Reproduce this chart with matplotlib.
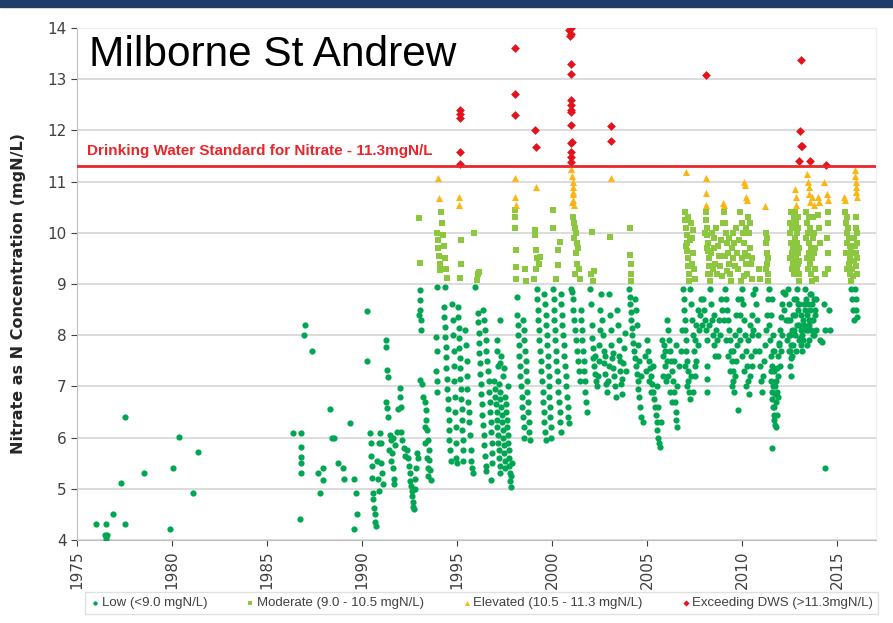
import numpy as np
import matplotlib
matplotlib.use("Agg")
import matplotlib.pyplot as plt
from matplotlib.patches import Rectangle

plt.rcParams['font.family'] = ['Liberation Sans', 'DejaVu Sans']

# sample date (decimal year), nitrate as N (mgN/L)
early = [(1976.0, 4.31), (1976.55, 4.31), (1976.45, 4.10), (1976.6, 4.10), (1976.5, 4.02),
         (1976.9, 4.51), (1977.5, 4.31), (1977.3, 5.11), (1977.5, 6.40), (1978.5, 5.31),
         (1979.9, 4.21), (1980.05, 5.40), (1980.35, 6.01), (1981.1, 4.91), (1981.35, 5.71)]

late80s = [(1986.35, 6.09), (1986.8, 6.09), (1986.8, 5.82), (1986.8, 5.63), (1986.8, 5.5),
           (1986.8, 5.3), (1986.75, 4.41), (1987.0, 8.2), (1986.95, 8.0), (1987.35, 7.69),
           (1987.7, 5.3), (1987.95, 5.4), (1987.95, 5.18), (1987.8, 4.91), (1988.3, 6.55),
           (1988.4, 6.0), (1988.55, 6.0), (1988.75, 5.5), (1989.0, 5.4), (1989.05, 5.19),
           (1989.35, 6.28), (1989.6, 5.19), (1989.7, 4.91), (1989.75, 4.51), (1989.6, 4.21)]

early90s = [(1990.24, 8.48), (1990.24, 7.50),
            (1990.40, 6.09), (1990.45, 5.90), (1990.45, 5.64), (1990.50, 5.44), (1990.52, 5.21),
            (1990.56, 4.92), (1990.60, 4.80), (1990.62, 4.62), (1990.66, 4.50), (1990.68, 4.35),
            (1990.72, 4.28), (1990.95, 6.09), (1991.00, 5.90), (1991.02, 5.50), (1991.05, 5.30),
            (1991.10, 5.10), (1990.90, 5.90), (1990.80, 5.55), (1990.85, 5.20), (1990.88, 4.95),
            (1991.26, 7.90), (1991.28, 7.77), (1991.32, 7.32), (1991.36, 7.18), (1991.28, 6.70),
            (1991.34, 6.57), (1991.38, 6.40), (1991.45, 6.05), (1991.55, 5.95), (1991.65, 6.00),
            (1991.75, 5.85), (1991.85, 6.10), (1991.60, 5.70), (1991.62, 5.40), (1991.66, 5.20),
            (1991.70, 5.10), (1991.50, 5.55), (1991.40, 5.75), (1991.90, 6.55), (1992.00, 6.97),
            (1992.02, 6.80), (1992.05, 6.60), (1992.05, 6.10), (1992.10, 5.95), (1992.20, 5.80),
            (1992.25, 5.65), (1992.35, 5.75), (1992.40, 5.60), (1992.45, 5.45), (1992.50, 5.30),
            (1992.55, 5.15), (1992.58, 5.05), (1992.62, 4.95), (1992.65, 4.85), (1992.68, 4.75),
            (1992.70, 4.65), (1992.72, 4.60), (1992.78, 5.00), (1992.85, 5.40), (1992.90, 5.70),
            (1992.92, 5.60), (1992.80, 5.20), (1993.05, 8.88), (1993.05, 8.69), (1993.07, 8.49),
            (1993.08, 8.30), (1993.10, 8.10), (1993.02, 8.40), (1993.05, 7.12), (1993.15, 7.05),
            (1993.20, 6.80), (1993.35, 6.54), (1993.38, 6.35), (1993.42, 6.15), (1993.46, 5.95),
            (1993.50, 5.76), (1993.54, 5.56), (1993.58, 5.37), (1993.62, 5.17), (1993.30, 6.70),
            (1993.30, 6.20), (1993.34, 5.90), (1993.40, 5.60), (1993.45, 5.40), (1993.48, 5.25),
            (1993.00, 10.29), (1993.05, 9.41)]

mid90s = [(1993.95, 10.00), (1994.00, 9.85), (1994.02, 9.70), (1994.05, 9.55), (1994.08, 9.40),
          (1994.10, 9.27), (1994.02, 11.07), (1994.06, 10.68), (1994.15, 10.40), (1994.20, 10.20),
          (1994.25, 9.95), (1994.30, 9.75), (1994.35, 9.50), (1994.40, 9.30), (1994.45, 9.12),
          (1993.95, 8.94), (1994.35, 8.94), (1994.30, 8.55), (1994.32, 8.36), (1994.35, 8.16),
          (1994.38, 7.96), (1994.40, 7.77), (1994.42, 7.57), (1993.90, 7.96), (1993.92, 7.70),
          (1993.90, 7.30), (1993.93, 7.10), (1993.96, 6.90), (1994.40, 7.35), (1994.45, 7.15),
          (1994.48, 6.95), (1994.50, 6.75), (1994.53, 6.55), (1994.56, 6.35), (1994.58, 6.15),
          (1994.60, 5.95), (1994.63, 5.75), (1994.66, 5.55), (1994.75, 8.60), (1994.77, 8.30),
          (1994.80, 8.00), (1994.82, 7.70), (1994.84, 7.40), (1994.86, 7.10), (1994.88, 6.80),
          (1994.90, 6.50), (1994.92, 6.20), (1994.94, 5.90), (1994.96, 5.60), (1994.98, 5.50),
          (1995.05, 8.55), (1995.07, 8.35), (1995.08, 8.15), (1995.10, 7.95), (1995.12, 7.75),
          (1995.14, 7.55), (1995.16, 7.35), (1995.18, 7.15), (1995.20, 6.95), (1995.22, 6.75),
          (1995.24, 6.55), (1995.26, 6.35), (1995.28, 6.15), (1995.30, 5.95), (1995.32, 5.75),
          (1995.34, 5.55), (1995.16, 12.40), (1995.16, 12.32), (1995.17, 12.25), (1995.15, 11.58),
          (1995.16, 11.34), (1995.10, 10.70), (1995.12, 10.55), (1995.20, 9.85), (1995.22, 9.40),
          (1995.18, 9.12), (1995.90, 10.00), (1996.10, 9.20), (1996.15, 9.24), (1996.05, 9.08)]

late90s = [(1995.40, 8.10), (1995.45, 7.80), (1995.50, 7.50), (1995.52, 7.20), (1995.55, 6.95),
           (1995.58, 6.70), (1995.62, 6.50), (1995.65, 6.30), (1995.70, 6.05), (1995.72, 5.75),
           (1995.76, 5.55), (1995.80, 5.40), (1995.82, 5.30), (1995.95, 8.94), (1996.10, 8.43),
           (1996.12, 8.25), (1996.14, 8.05), (1996.16, 7.85), (1996.18, 7.65), (1996.20, 7.45),
           (1996.22, 7.25), (1996.25, 7.05), (1996.28, 6.85), (1996.30, 6.65), (1996.33, 6.45),
           (1996.36, 6.25), (1996.40, 6.05), (1996.44, 5.85), (1996.48, 5.65), (1996.52, 5.45),
           (1996.55, 5.35), (1996.35, 8.50), (1996.40, 8.30), (1996.45, 8.10), (1996.50, 7.90),
           (1996.55, 7.70), (1996.58, 7.50), (1996.62, 7.30), (1996.66, 7.10), (1996.70, 6.90),
           (1996.72, 6.70), (1996.75, 6.50), (1996.78, 6.30), (1996.80, 6.10), (1996.82, 5.90),
           (1996.84, 5.70), (1996.86, 5.50), (1996.80, 5.17), (1997.25, 8.30), (1997.30, 7.60),
           (1997.25, 7.45), (1997.70, 7.00), (1996.95, 7.10), (1997.00, 6.95), (1997.02, 6.80),
           (1997.05, 6.65), (1997.08, 6.50), (1997.10, 6.35), (1997.12, 6.20), (1997.15, 6.05),
           (1997.18, 5.90), (1997.20, 5.75), (1997.22, 5.60), (1997.25, 5.45), (1997.28, 5.30),
           (1997.20, 7.05), (1997.25, 6.90), (1997.28, 6.75), (1997.32, 6.60), (1997.35, 6.45),
           (1997.38, 6.30), (1997.40, 6.15), (1997.42, 6.00), (1997.45, 5.85), (1997.48, 5.70),
           (1997.50, 5.55), (1997.52, 5.40), (1997.55, 6.80), (1997.58, 6.65), (1997.60, 6.50),
           (1997.62, 6.35), (1997.65, 6.20), (1997.68, 6.05), (1997.70, 5.90), (1997.72, 5.75),
           (1997.74, 5.60), (1997.76, 5.45), (1997.78, 5.30), (1997.80, 5.15), (1997.82, 5.04),
           (1997.85, 5.25), (1997.88, 5.50), (1997.10, 7.90), (1997.12, 7.70), (1997.15, 7.40),
           (1997.40, 7.20), (1997.45, 7.35),
           (1998.05, 13.60), (1998.05, 12.71), (1998.06, 12.30), (1998.05, 11.07), (1998.05, 10.70),
           (1998.08, 10.55), (1998.05, 10.45), (1998.06, 10.30), (1998.07, 10.10), (1998.08, 9.66),
           (1998.10, 9.33), (1998.12, 9.10), (1998.60, 9.30), (1998.65, 9.05),
           (1998.15, 8.75), (1998.18, 8.40), (1998.20, 8.20), (1998.22, 8.00), (1998.25, 7.80),
           (1998.28, 7.60), (1998.30, 7.40), (1998.33, 7.20), (1998.36, 7.00), (1998.40, 6.80),
           (1998.43, 6.60), (1998.46, 6.40), (1998.50, 6.20), (1998.53, 6.00), (1998.45, 8.30),
           (1998.50, 8.10), (1998.55, 7.90), (1998.58, 7.70), (1998.62, 7.50), (1998.65, 7.30),
           (1998.68, 7.10), (1998.70, 6.90), (1998.72, 6.70), (1998.75, 6.50), (1998.78, 6.30),
           (1998.80, 6.10), (1998.83, 5.95),
           (1999.10, 12.00), (1999.15, 11.68), (1999.15, 10.90), (1999.10, 10.05), (1999.10, 9.95),
           (1999.15, 9.66), (1999.20, 9.50), (1999.15, 9.30), (1999.35, 9.53), (1999.30, 9.40),
           (1999.05, 9.10), (1999.20, 8.90), (1999.22, 8.70), (1999.25, 8.50), (1999.28, 8.30),
           (1999.30, 8.10), (1999.33, 7.90), (1999.36, 7.70), (1999.40, 7.50), (1999.43, 7.30),
           (1999.46, 7.10), (1999.50, 6.90), (1999.53, 6.70), (1999.56, 6.50), (1999.60, 6.30),
           (1999.63, 6.10), (1999.66, 5.95), (1999.60, 8.80), (1999.63, 8.60), (1999.66, 8.40),
           (1999.70, 8.20), (1999.72, 8.00), (1999.75, 7.80), (1999.77, 7.60), (1999.80, 7.40),
           (1999.82, 7.20), (1999.84, 7.00), (1999.86, 6.80), (1999.88, 6.60), (1999.90, 6.40),
           (1999.92, 6.20), (1999.94, 6.00)]

early00s = [(2000.05, 10.44), (2000.05, 10.09), (2000.40, 9.82), (2000.30, 9.38), (2000.20, 9.10),
            (2000.30, 9.66), (2000.05, 8.90), (2000.08, 8.70), (2000.10, 8.50), (2000.12, 8.30),
            (2000.15, 8.10), (2000.18, 7.90), (2000.20, 7.70), (2000.23, 7.50), (2000.26, 7.30),
            (2000.30, 7.10), (2000.33, 6.90), (2000.36, 6.70), (2000.40, 6.50), (2000.43, 6.30),
            (2000.46, 6.10), (2000.45, 8.80), (2000.48, 8.60), (2000.52, 8.40), (2000.55, 8.20),
            (2000.58, 8.00), (2000.62, 7.80), (2000.65, 7.60), (2000.68, 7.40), (2000.72, 7.20),
            (2000.75, 7.00), (2000.78, 6.80), (2000.82, 6.60), (2000.85, 6.40), (2000.88, 6.28),
            (2000.90, 13.96), (2000.92, 13.85), (2001.00, 14.00), (2001.00, 13.88), (2001.02, 13.30),
            (2001.02, 13.10), (2000.98, 12.60), (2000.98, 12.50), (2000.98, 12.40), (2001.00, 12.35),
            (2001.00, 12.10), (2000.98, 11.75), (2001.05, 11.78), (2001.00, 11.58), (2001.00, 11.49),
            (2001.00, 11.39), (2001.02, 11.25), (2001.05, 11.10), (2001.08, 11.00), (2001.08, 10.90),
            (2001.10, 10.80), (2001.12, 10.75), (2001.10, 10.65), (2001.15, 10.55), (2001.05, 10.60),
            (2001.10, 10.30), (2001.15, 10.20), (2001.20, 10.10), (2001.25, 10.00), (2001.18, 9.90),
            (2001.30, 9.80), (2001.35, 9.70), (2001.25, 9.60), (2001.30, 9.40), (2001.40, 9.30),
            (2001.45, 9.10), (2001.20, 9.20), (2001.00, 8.90), (2001.05, 8.85), (2001.10, 8.70),
            (2001.12, 8.50), (2001.15, 8.30), (2001.20, 8.10), (2001.25, 7.90), (2001.30, 7.70),
            (2001.35, 7.50), (2001.40, 7.30), (2001.45, 7.10), (2001.50, 8.50), (2001.55, 8.30),
            (2001.58, 8.10), (2001.60, 7.90), (2001.63, 7.70), (2001.66, 7.50), (2001.70, 7.30),
            (2001.73, 7.10), (2001.76, 6.90), (2001.80, 6.70), (2001.82, 6.50),
            (2002.10, 10.02), (2002.05, 9.20), (2002.20, 9.25), (2002.15, 9.05), (2003.05, 9.92),
            (2003.10, 12.09), (2003.10, 11.79), (2003.10, 11.08),
            (2002.00, 8.90), (2002.05, 8.60), (2002.10, 8.20), (2002.12, 7.95), (2002.15, 7.75),
            (2002.18, 7.55), (2002.20, 7.40), (2002.25, 7.25), (2002.30, 7.10), (2002.35, 7.00),
            (2002.40, 7.20), (2002.45, 7.50), (2002.48, 7.80), (2002.52, 8.10), (2002.55, 8.50),
            (2002.60, 8.80), (2002.65, 8.30), (2002.70, 8.00), (2002.72, 7.70), (2002.75, 7.45),
            (2002.80, 7.25), (2002.85, 7.05), (2002.90, 6.90), (2002.95, 7.10), (2003.00, 7.40),
            (2003.00, 8.80), (2003.05, 8.40), (2003.08, 8.10), (2003.10, 7.80), (2003.15, 7.55),
            (2003.20, 7.35), (2003.25, 7.20), (2003.30, 7.00), (2003.35, 6.80), (2003.40, 8.50),
            (2003.45, 8.20), (2003.50, 7.90), (2003.55, 7.60), (2003.58, 7.30), (2003.62, 7.05),
            (2003.66, 6.85), (2003.70, 7.15), (2003.75, 7.45), (2003.80, 7.75), (2003.85, 8.05),
            (2003.90, 7.30), (2002.25, 7.60), (2002.80, 7.60), (2003.20, 7.65), (2003.60, 7.50)]

mid00s = [(2004.10, 10.10), (2004.12, 9.56), (2004.14, 9.40), (2004.15, 9.20), (2004.18, 9.05),
          (2004.05, 8.90), (2004.08, 8.75), (2004.10, 8.60), (2004.13, 8.45), (2004.16, 8.30),
          (2004.20, 8.15), (2004.23, 8.00), (2004.26, 7.85), (2004.30, 7.70), (2004.35, 7.55),
          (2004.40, 7.40), (2004.45, 7.25), (2004.50, 7.10), (2004.55, 6.95), (2004.60, 6.80),
          (2004.65, 6.60), (2004.70, 6.40), (2004.80, 6.30), (2004.35, 8.70), (2004.40, 8.50),
          (2004.45, 8.20), (2004.55, 7.80), (2004.60, 7.50), (2004.70, 7.20),
          (2005.00, 7.90), (2005.05, 7.70), (2005.10, 7.50), (2005.15, 7.35), (2005.20, 7.20),
          (2005.25, 7.05), (2005.30, 6.90), (2005.35, 6.75), (2005.40, 6.60), (2005.45, 6.45),
          (2005.50, 6.30), (2005.55, 6.15), (2005.60, 6.00), (2005.65, 5.90), (2005.70, 5.82),
          (2004.90, 7.60), (2004.95, 7.30), (2005.10, 7.10), (2005.20, 6.90), (2005.30, 7.40),
          (2005.50, 7.00), (2005.60, 6.60), (2005.75, 6.30), (2006.05, 8.30), (2006.10, 8.10),
          (2006.15, 7.90), (2006.20, 7.70), (2006.25, 7.50), (2006.30, 7.30), (2006.35, 7.10),
          (2006.40, 6.90), (2006.45, 6.70), (2006.50, 6.50), (2006.55, 6.35), (2006.60, 6.20),
          (2005.85, 7.60), (2005.90, 7.80), (2005.95, 7.40), (2006.00, 7.10),
          (2007.05, 11.19), (2007.00, 10.40), (2007.02, 10.25), (2007.05, 10.10), (2007.08, 9.95),
          (2007.10, 9.80), (2007.12, 9.65), (2007.15, 9.50), (2007.18, 9.35), (2007.20, 9.20),
          (2007.22, 9.05), (2007.30, 10.20), (2007.35, 9.90), (2007.40, 9.60), (2007.45, 9.30),
          (2007.50, 9.10), (2006.90, 8.90), (2006.92, 8.70), (2006.95, 8.50), (2006.98, 8.30),
          (2007.00, 8.10), (2007.03, 7.90), (2007.06, 7.70), (2007.10, 7.50), (2007.13, 7.30),
          (2007.16, 7.10), (2007.20, 6.90), (2007.25, 6.75), (2007.25, 8.90), (2007.30, 8.60),
          (2007.35, 8.30), (2007.40, 8.00), (2007.45, 7.70), (2007.50, 7.40), (2007.55, 7.20),
          (2007.60, 7.50), (2007.70, 7.80), (2007.75, 8.10), (2007.80, 8.40)]

late00s = [(2008.10, 13.09), (2008.10, 11.07), (2008.10, 10.78), (2008.12, 10.55),
           (2008.10, 10.40), (2008.12, 10.25), (2008.15, 10.10), (2008.18, 9.95), (2008.20, 9.80),
           (2008.22, 9.65), (2008.25, 9.50), (2008.28, 9.35), (2008.30, 9.20), (2008.32, 9.05),
           (2008.40, 10.00), (2008.50, 9.70), (2008.60, 9.40), (2008.70, 9.20), (2008.80, 9.55),
           (2008.90, 9.85), (2009.00, 10.20), (2009.00, 10.58),
           (2007.95, 8.70), (2008.00, 8.50), (2008.05, 8.30), (2008.10, 8.10), (2008.15, 7.90),
           (2008.15, 7.40), (2008.15, 7.15), (2008.15, 6.90), (2008.30, 8.90), (2008.35, 8.60),
           (2008.40, 8.30), (2008.45, 8.00), (2008.50, 7.80), (2008.60, 7.60), (2008.70, 7.90),
           (2008.80, 8.30), (2008.90, 8.70), (2008.25, 8.20),
           (2009.05, 10.55), (2010.10, 10.99), (2010.15, 10.93), (2010.20, 10.70), (2010.25, 10.64),
           (2009.05, 10.40), (2009.10, 10.20), (2009.15, 10.00), (2009.20, 9.80), (2009.25, 9.60),
           (2009.30, 9.40), (2009.35, 9.20), (2009.40, 9.05), (2009.50, 9.50), (2009.60, 9.80),
           (2009.70, 10.10), (2009.90, 10.40), (2010.00, 10.20), (2010.05, 10.00), (2010.10, 9.80),
           (2010.15, 9.60), (2010.20, 9.40), (2010.25, 9.20), (2010.30, 10.30), (2010.35, 10.00),
           (2010.40, 9.70), (2010.45, 9.40), (2010.50, 9.10), (2009.80, 9.30), (2009.95, 9.05),
           (2009.10, 8.90), (2009.15, 8.70), (2009.20, 8.50), (2009.25, 8.30), (2009.30, 8.10),
           (2009.35, 7.90), (2009.40, 7.70), (2009.45, 7.50), (2009.50, 7.30), (2009.55, 7.10),
           (2009.60, 6.90), (2009.65, 7.20), (2009.70, 7.50), (2009.75, 7.80), (2009.80, 6.54),
           (2009.85, 8.10), (2009.90, 8.40), (2009.95, 8.70), (2010.00, 8.90), (2010.05, 8.60),
           (2010.10, 8.30), (2010.15, 8.00), (2010.20, 7.70), (2010.25, 7.40), (2010.30, 7.10),
           (2010.35, 6.85), (2010.40, 7.20), (2010.45, 7.60), (2010.50, 8.00), (2010.55, 8.40),
           (2010.60, 8.80)]

early10s = [(2011.20, 10.52), (2011.25, 10.00), (2011.28, 9.80), (2011.30, 9.60), (2011.32, 9.40),
            (2011.35, 9.20), (2011.38, 9.05), (2010.90, 9.30), (2010.95, 9.10),
            (2010.70, 8.90), (2010.75, 8.60), (2010.80, 8.30), (2010.85, 8.00), (2010.90, 7.70),
            (2010.95, 7.40), (2011.00, 7.10), (2011.05, 6.90), (2011.10, 7.20), (2011.15, 7.50),
            (2011.20, 7.80), (2011.25, 8.10), (2011.30, 8.40), (2011.35, 8.70), (2011.40, 8.90),
            (2011.40, 8.20), (2011.45, 7.90), (2011.50, 7.60), (2011.52, 7.30), (2011.55, 7.10),
            (2011.58, 6.90), (2011.60, 6.75), (2011.63, 6.60), (2011.66, 6.45), (2011.70, 6.35),
            (2011.75, 6.25), (2011.80, 6.20), (2011.56, 5.80), (2011.70, 6.60), (2011.75, 6.85),
            (2011.80, 7.10), (2011.85, 7.35), (2011.90, 7.60), (2011.95, 7.85), (2012.00, 8.10),
            (2012.05, 8.35), (2012.10, 8.60), (2012.15, 8.85), (2011.60, 7.40), (2011.65, 7.00),
            (2011.85, 6.90), (2011.90, 7.20), (2011.70, 7.70), (2011.62, 8.00)]

mid10s = [(2013.10, 13.38), (2013.05, 11.99), (2013.10, 11.70), (2013.15, 11.70), (2013.00, 11.40),
          (2013.60, 11.40), (2014.40, 11.32), (2012.80, 10.85), (2012.85, 10.70), (2012.85, 10.55),
          (2013.40, 11.15), (2013.45, 11.00), (2013.50, 10.90), (2013.55, 10.75), (2013.60, 10.60),
          (2014.00, 10.70), (2014.05, 10.60), (2014.30, 11.00), (2014.45, 10.75), (2014.55, 10.65),
          (2013.70, 10.70), (2013.80, 10.55),
          (2012.50, 10.20), (2012.55, 10.00), (2012.60, 9.80), (2012.65, 9.60), (2012.70, 9.40),
          (2012.75, 9.20), (2012.80, 10.40), (2012.85, 10.20), (2012.88, 10.00), (2012.90, 9.80),
          (2012.92, 9.60), (2012.95, 9.40), (2012.98, 9.20), (2013.00, 9.05), (2012.60, 10.40),
          (2012.65, 9.30), (2013.35, 10.40), (2013.40, 10.20), (2013.45, 10.00), (2013.50, 9.80),
          (2013.55, 9.60), (2013.60, 9.40), (2013.65, 9.20), (2013.70, 9.05), (2013.75, 10.30),
          (2013.80, 10.00), (2013.85, 9.70), (2014.50, 10.40), (2014.52, 10.20), (2014.55, 9.30),
          (2014.35, 9.20),
          (2012.40, 8.90), (2012.45, 8.60), (2012.50, 8.30), (2012.55, 8.00), (2012.60, 7.80),
          (2012.65, 7.60), (2012.70, 7.80), (2012.75, 8.10), (2012.80, 8.40), (2012.85, 8.70),
          (2012.90, 8.90), (2012.95, 8.50), (2013.00, 8.20), (2013.05, 7.95), (2013.10, 7.80),
          (2013.15, 8.00), (2013.20, 8.30), (2013.25, 8.60), (2013.30, 8.90), (2013.35, 8.70),
          (2013.40, 8.40), (2013.45, 8.10), (2013.50, 7.90), (2013.55, 8.20), (2013.60, 8.50),
          (2013.65, 8.80), (2013.70, 8.60), (2013.75, 8.30), (2013.80, 8.00), (2013.85, 8.40),
          (2013.90, 8.70), (2012.55, 7.40), (2012.60, 7.20), (2012.45, 7.70),
          (2014.10, 7.90), (2014.20, 7.87), (2014.30, 8.60), (2014.35, 8.10), (2014.60, 8.50),
          (2014.62, 8.10), (2014.37, 5.40),
          (2015.40, 10.64), (2015.95, 11.22), (2015.97, 11.10), (2016.00, 11.00), (2016.00, 10.90),
          (2016.02, 10.80), (2016.03, 10.70), (2015.35, 10.70),
          (2015.40, 10.40), (2015.45, 10.20), (2015.50, 10.00), (2015.55, 9.80), (2015.60, 9.60),
          (2015.65, 9.40), (2015.70, 9.20), (2015.75, 9.05), (2015.80, 9.30), (2015.85, 9.60),
          (2015.90, 9.90), (2016.00, 10.30), (2016.02, 10.10), (2016.05, 9.80), (2016.05, 9.50),
          (2016.05, 9.20), (2015.60, 10.10), (2015.70, 9.75),
          (2015.75, 8.90), (2015.80, 8.70), (2015.85, 8.50), (2015.90, 8.30), (2015.95, 8.90),
          (2016.00, 8.70), (2016.02, 8.50), (2016.05, 8.35)]

# extra samples in the densest stretches (2005-2016)
dense_late = [(2007.05, 9.75), (2007.15, 10.30), (2007.25, 9.85), (2007.35, 9.40), (2007.40, 10.05),
              (2008.05, 10.00), (2008.15, 9.70), (2008.20, 9.20), (2008.35, 9.60), (2008.45, 9.30),
              (2008.55, 9.90), (2008.65, 10.10), (2008.75, 9.75), (2008.85, 9.35), (2008.95, 9.15),
              (2009.10, 9.55), (2009.20, 9.25), (2009.30, 9.90), (2009.45, 9.70), (2009.55, 10.00),
              (2009.65, 9.35), (2009.75, 9.60), (2009.85, 9.85), (2010.00, 9.50), (2010.10, 9.15),
              (2010.20, 10.10), (2010.30, 9.55), (2010.40, 10.20), (2010.55, 9.50), (2011.25, 9.30),
              (2011.30, 9.90), (2011.35, 9.50), (2012.55, 9.50), (2012.62, 10.10), (2012.68, 9.70),
              (2012.72, 10.30), (2012.78, 9.90), (2012.82, 9.50), (2012.88, 9.30), (2012.92, 10.30),
              (2012.95, 10.10), (2013.00, 9.70), (2013.02, 9.45), (2013.38, 9.90), (2013.42, 9.50),
              (2013.48, 9.30), (2013.52, 10.30), (2013.58, 10.10), (2013.62, 9.70), (2013.68, 9.50),
              (2013.72, 9.90), (2013.78, 9.60), (2013.82, 9.30), (2013.90, 9.10), (2014.00, 10.35),
              (2014.05, 10.10), (2014.10, 9.80), (2014.48, 9.90), (2014.52, 9.60), (2015.45, 9.60),
              (2015.50, 9.30), (2015.55, 10.30), (2015.62, 9.90), (2015.68, 9.50), (2015.75, 9.70),
              (2015.82, 9.15), (2015.88, 9.45), (2015.95, 9.75), (2016.00, 9.60), (2016.02, 9.35),
              (2016.05, 10.00),
              (2012.42, 8.30), (2012.48, 8.00), (2012.52, 7.70), (2012.58, 7.55), (2012.62, 8.10),
              (2012.68, 8.40), (2012.72, 8.70), (2012.78, 8.00), (2012.82, 7.70), (2012.88, 8.20),
              (2012.92, 8.60), (2012.98, 7.90), (2013.02, 8.60), (2013.08, 8.40), (2013.12, 8.10),
              (2013.18, 7.70), (2013.22, 7.90), (2013.28, 8.20), (2013.32, 8.50), (2013.38, 8.10),
              (2013.42, 7.80), (2013.48, 8.60), (2013.52, 8.30), (2013.58, 8.80), (2013.62, 8.10),
              (2013.68, 8.30), (2013.72, 8.00), (2013.78, 8.70), (2013.82, 8.50), (2013.88, 8.10),
              (2011.55, 8.40), (2011.60, 8.70), (2011.65, 7.70), (2011.68, 7.30), (2011.72, 7.00),
              (2011.78, 6.70), (2011.82, 6.45), (2011.88, 6.80), (2011.92, 7.80), (2011.98, 7.40),
              (2012.05, 7.70), (2012.10, 8.00), (2012.20, 8.50), (2012.25, 8.80), (2012.30, 8.30),
              (2012.35, 7.90),
              (2008.55, 8.40), (2008.65, 8.10), (2008.75, 7.60), (2008.85, 8.00), (2008.95, 8.50),
              (2009.05, 8.30), (2009.15, 7.90), (2009.25, 7.60), (2009.35, 7.30), (2009.45, 7.00),
              (2009.55, 7.70), (2009.65, 8.00), (2009.70, 8.40), (2009.80, 8.70), (2009.90, 7.90),
              (2010.00, 7.60), (2010.10, 7.30), (2010.20, 7.00), (2010.30, 7.90), (2010.40, 8.20),
              (2010.50, 7.40), (2010.60, 8.10), (2010.70, 7.70),
              (2005.80, 7.90), (2005.85, 7.20), (2005.95, 7.70), (2006.05, 7.50), (2006.10, 7.20),
              (2006.20, 6.90), (2006.30, 6.70), (2006.40, 7.50), (2006.50, 7.80), (2006.60, 7.00),
              (2006.70, 7.40), (2006.80, 7.70), (2006.85, 8.10), (2007.00, 7.40), (2007.10, 7.00),
              (2007.30, 7.20), (2007.40, 6.90), (2007.50, 7.90), (2007.60, 8.20), (2007.70, 8.50),
              (2007.85, 8.70), (2007.90, 8.20)]

dws_limit = 11.3
class_labels = ['Low (<9.0 mgN/L)', 'Moderate (9.0 - 10.5 mgN/L)',
                'Elevated (10.5 - 11.3 mgN/L)', 'Exceeding DWS (>11.3mgN/L)']
class_colors = ['#00a651', '#8dc63f', '#fbb615', '#e3121b']
class_markers = ['o', 's', '^', 'D']
class_sizes = [20, 22, 26, 20]

samples = np.array(early + late80s + early90s + mid90s + late90s + early00s
                   + mid00s + late00s + early10s + mid10s + dense_late)
dates, nitrate = samples[:, 0], samples[:, 1]
cls = np.digitize(nitrate, [9.0, 10.5, dws_limit])

fig = plt.figure(figsize=(8.93, 6.23), dpi=100)
ax = fig.add_axes([77 / 893, 1 - 540 / 623, (876 - 77) / 893, (540 - 28) / 623])

for k in range(4):
    m = cls == k
    ax.scatter(dates[m], nitrate[m], s=class_sizes[k], marker=class_markers[k],
               color=class_colors[k], linewidths=0, label=class_labels[k], zorder=3)

ax.axhline(dws_limit, color='#e8262b', lw=2.0, zorder=4)
ax.text(1975.55, 11.6, 'Drinking Water Standard for Nitrate - 11.3mgN/L',
        color='#e8262b', fontsize=11, fontweight='bold', va='center')
ax.text(1975.65, 13.48, 'Milborne St Andrew', fontsize=30.5, color='black', va='center')

ax.set_xlim(1975, 2017.05)
ax.set_ylim(4, 14)
ax.set_xticks(range(1975, 2016, 5))
ax.set_yticks(range(4, 15))
ax.tick_params(axis='x', labelrotation=90, colors='#404040', length=4)
ax.tick_params(axis='y', colors='#404040', length=4)
for lab in ax.get_xticklabels() + ax.get_yticklabels():
    lab.set_fontfamily('DejaVu Sans')
    lab.set_fontsize(11)
ax.grid(axis='y', color='#d9d9d9', lw=1.3)
ax.set_axisbelow(True)
for side in ['top', 'right']:
    ax.spines[side].set_color('#eeeeee')
for side in ['left', 'bottom']:
    ax.spines[side].set_color('#bfbfbf')
ax.set_ylabel('Nitrate as N Concentration (mgN/L)', fontsize=11.5, fontweight='bold',
              color='#262626', family='DejaVu Sans')
ax.yaxis.set_label_coords(-(77 - 26) / 799, 0.482)

leg = fig.legend(loc='lower left', bbox_to_anchor=(78 / 893, 2 / 623, (885 - 78) / 893, 28 / 623),
                 mode='expand', ncol=4, fontsize=9.5, frameon=True, fancybox=False,
                 handletextpad=0.1, columnspacing=0.6, borderpad=0.4, markerscale=0.7,
                 handlelength=0.8)
leg.get_frame().set_edgecolor('#d9d9d9')
for t in leg.get_texts():
    t.set_color('#404040')

# dark banner along the top edge
fig.patches.append(Rectangle((0, 1 - 7 / 623), 1, 7 / 623, transform=fig.transFigure,
                             color='#1d3e6b', zorder=0))

fig.savefig('out.png', dpi=100)
